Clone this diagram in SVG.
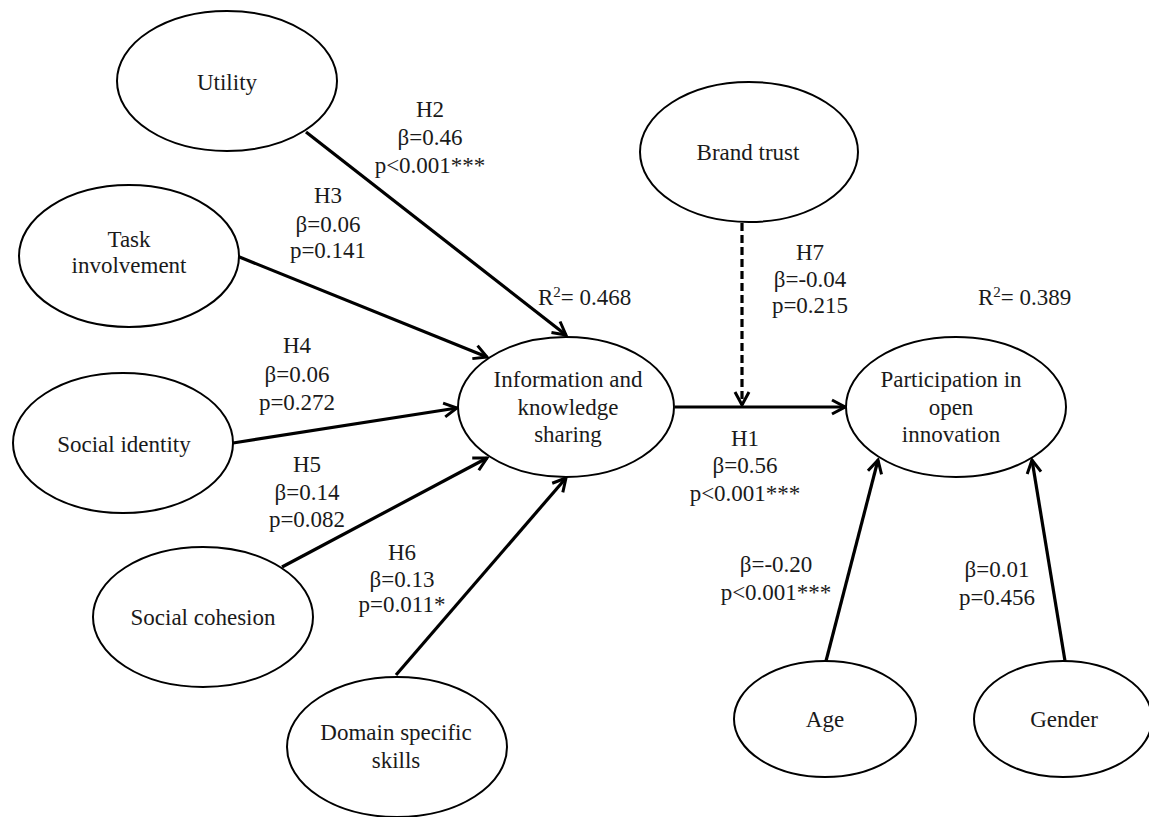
<svg xmlns="http://www.w3.org/2000/svg" width="1149" height="817" viewBox="0 0 1149 817">
<style>
  .node ellipse { fill: #fff; stroke: #000; stroke-width: 2; }
  text { font-family: "Liberation Serif", "Times New Roman", serif; font-size: 23px; fill: #1a1a1a; }
  .c { text-anchor: middle; }
  .edge { stroke: #000; stroke-width: 3.2; fill: none; marker-end: url(#arr); }
  .dash { stroke-dasharray: 8 4; }
</style>
<defs>
  <marker id="arr" viewBox="0 0 18 18" refX="16" refY="9" markerWidth="18" markerHeight="18" markerUnits="userSpaceOnUse" orient="auto">
    <path d="M3,2 L16,9 L3,16" fill="none" stroke="#000" stroke-width="3"/>
  </marker>
</defs>
<rect width="1149" height="817" fill="#fff"/>

<g id="connectors">
  <line class="edge" x1="306" y1="132" x2="566" y2="335"/>
  <line class="edge" x1="237" y1="256" x2="487" y2="357"/>
  <line class="edge" x1="233" y1="443" x2="457" y2="408"/>
  <line class="edge" x1="282" y1="567" x2="487" y2="458"/>
  <line class="edge" x1="396" y1="675" x2="566" y2="478"/>
  <line class="edge" x1="675" y1="407" x2="845" y2="407"/>
  <line class="edge dash" x1="742" y1="223" x2="742" y2="405"/>
  <line class="edge" x1="826" y1="661" x2="878" y2="460"/>
  <line class="edge" x1="1065" y1="661" x2="1032" y2="460"/>
</g>

<g id="labels">
  <text class="c" x="430" y="117">H2</text>
  <text class="c" x="430" y="145">β=0.46</text>
  <text class="c" x="430" y="173">p&lt;0.001***</text>

  <text class="c" x="328" y="203">H3</text>
  <text class="c" x="328" y="232">β=0.06</text>
  <text class="c" x="328" y="258">p=0.141</text>

  <text class="c" x="297" y="353">H4</text>
  <text class="c" x="297" y="382">β=0.06</text>
  <text class="c" x="297" y="410">p=0.272</text>

  <text class="c" x="307" y="472">H5</text>
  <text class="c" x="307" y="500">β=0.14</text>
  <text class="c" x="307" y="527">p=0.082</text>

  <text class="c" x="402" y="560">H6</text>
  <text class="c" x="402" y="587">β=0.13</text>
  <text class="c" x="402" y="612">p=0.011*</text>

  <text class="c" x="810" y="260">H7</text>
  <text class="c" x="810" y="287">β=-0.04</text>
  <text class="c" x="810" y="313">p=0.215</text>

  <text class="c" x="745" y="446">H1</text>
  <text class="c" x="745" y="473">β=0.56</text>
  <text class="c" x="745" y="501">p&lt;0.001***</text>

  <text class="c" x="776" y="572">β=-0.20</text>
  <text class="c" x="776" y="600">p&lt;0.001***</text>

  <text class="c" x="997" y="577">β=0.01</text>
  <text class="c" x="997" y="605">p=0.456</text>

  <text x="538" y="305">R<tspan font-size="15" dy="-8">2</tspan><tspan dy="8">= 0.468</tspan></text>
  <text x="978" y="305">R<tspan font-size="15" dy="-8">2</tspan><tspan dy="8">= 0.389</tspan></text>
</g>

<g id="utility" class="node">
  <ellipse cx="227" cy="81" rx="110" ry="70"/>
  <text class="c" x="227" y="90">Utility</text>
</g>
<g id="task-involvement" class="node">
  <ellipse cx="129" cy="256" rx="110" ry="71"/>
  <text class="c" x="129" y="247">Task</text>
  <text class="c" x="129" y="273">involvement</text>
</g>
<g id="social-identity" class="node">
  <ellipse cx="123" cy="443" rx="110" ry="70"/>
  <text class="c" x="124" y="452">Social identity</text>
</g>
<g id="social-cohesion" class="node">
  <ellipse cx="203" cy="617" rx="110" ry="70"/>
  <text class="c" x="203" y="625">Social cohesion</text>
</g>
<g id="domain-skills" class="node">
  <ellipse cx="397" cy="747" rx="110" ry="70"/>
  <text class="c" x="396" y="740">Domain specific</text>
  <text class="c" x="396" y="768">skills</text>
</g>
<g id="info-sharing" class="node">
  <ellipse cx="566" cy="407" rx="108" ry="70"/>
  <text class="c" x="568" y="387">Information and</text>
  <text class="c" x="568" y="415">knowledge</text>
  <text class="c" x="568" y="442">sharing</text>
</g>
<g id="brand-trust" class="node">
  <ellipse cx="749" cy="152" rx="109" ry="70"/>
  <text class="c" x="748" y="160">Brand trust</text>
</g>
<g id="participation" class="node">
  <ellipse cx="956" cy="407" rx="110" ry="70"/>
  <text class="c" x="951" y="387">Participation in</text>
  <text class="c" x="951" y="415">open</text>
  <text class="c" x="951" y="442">innovation</text>
</g>
<g id="age" class="node">
  <ellipse cx="825" cy="719" rx="91" ry="58"/>
  <text class="c" x="825" y="727">Age</text>
</g>
<g id="gender" class="node">
  <ellipse cx="1063" cy="719" rx="89" ry="58"/>
  <text class="c" x="1064" y="727">Gender</text>
</g>
</svg>
